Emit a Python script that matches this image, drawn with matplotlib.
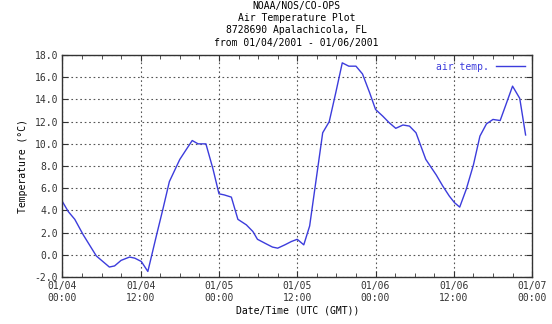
import matplotlib
matplotlib.use("Agg")
import matplotlib.pyplot as plt
from matplotlib.ticker import MultipleLocator

# hours since 01/04/2001 00:00 UTC and air temperature (deg C)
hours = [0.0, 0.9, 1.9, 3.2, 5.2, 6.2, 7.2, 8.0, 9.0, 10.3, 11.1, 12.1, 13.1,
         14.4, 15.4, 16.4, 18.0, 19.0, 19.9, 20.8, 22.0, 23.1, 24.0, 24.8,
         25.9, 26.9, 28.2, 29.2, 29.9, 31.2, 32.2, 33.0, 34.1, 35.1, 36.0,
         37.0, 37.9, 38.9, 39.9, 40.9, 41.9, 42.9, 43.9, 45.0, 46.0, 47.1,
         48.0, 49.1, 50.1, 51.1, 52.2, 53.2, 54.2, 55.7, 57.3, 58.3, 59.3,
         60.1, 60.9, 61.9, 63.0, 64.0, 65.0, 66.0, 67.1, 67.9, 69.0, 70.1, 71.0]
temps = [4.8, 3.9, 3.2, 1.8, -0.1, -0.6, -1.1, -1.0, -0.5, -0.2, -0.3, -0.6, -1.5,
         1.7, 4.1, 6.6, 8.6, 9.5, 10.3, 10.0, 10.0, 7.7, 5.5, 5.4,
         5.2, 3.2, 2.7, 2.1, 1.4, 1.0, 0.7, 0.6, 0.9, 1.2, 1.4,
         0.9, 2.6, 6.8, 11.0, 12.0, 14.6, 17.3, 17.0, 17.0, 16.3, 14.6,
         13.1, 12.5, 11.9, 11.4, 11.7, 11.6, 11.0, 8.6, 7.2, 6.2, 5.3,
         4.7, 4.3, 5.9, 8.1, 10.7, 11.8, 12.2, 12.1, 13.4, 15.2, 14.1, 10.8]

xtick_pos = [0, 12, 24, 36, 48, 60, 72]
xtick_labels = ["01/04\n00:00", "01/04\n12:00", "01/05\n00:00", "01/05\n12:00",
                "01/06\n00:00", "01/06\n12:00", "01/07\n00:00"]

title = ("NOAA/NOS/CO-OPS\nAir Temperature Plot\n"
         "8728690 Apalachicola, FL\nfrom 01/04/2001 - 01/06/2001")

plt.rcParams['font.family'] = ['DejaVu Sans Mono']
plt.rcParams['font.size'] = 7

fig = plt.figure(figsize=(5.52, 3.24), dpi=100)
ax = fig.add_axes([0.113, 0.145, 0.851, 0.685])

line_color = '#3c3cdc'
ax.plot(hours, temps, color=line_color, linewidth=1.0, label='air temp.')

ax.set_xlim(0, 72)
ax.set_ylim(-2, 18)
ax.set_xticks(xtick_pos)
ax.set_xticklabels(xtick_labels)
ax.xaxis.set_minor_locator(MultipleLocator(3))
ax.set_yticks(range(-2, 19, 2))
ax.set_yticklabels(['%.1f' % v for v in range(-2, 19, 2)])

ax.grid(True, which='major', linestyle=(0, (1.5, 2.5)), color='#555555', linewidth=0.8)
ax.tick_params(which='both', direction='in', top=True, right=True, colors='#333333')
ax.tick_params(which='major', length=4, pad=3)
ax.tick_params(which='minor', length=3)
for sp in ax.spines.values():
    sp.set_color('#333333')
    sp.set_linewidth(1.0)

ax.set_xlabel('Date/Time (UTC (GMT))', labelpad=2)
ax.set_ylabel('Temperature (°C)', labelpad=5)
fig.text(0.537, 0.998, title, ha='center', va='top', linespacing=1.3)

leg = ax.legend(loc='upper right', frameon=False, handlelength=3.0,
                borderaxespad=0.3, markerfirst=False)
for t in leg.get_texts():
    t.set_color(line_color)

fig.savefig('out.png', dpi=100)
